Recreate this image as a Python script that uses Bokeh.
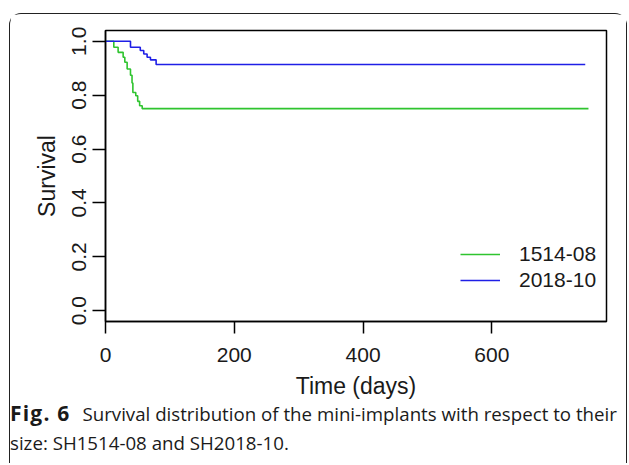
from bokeh.plotting import figure
from bokeh.layouts import column
from bokeh.models import Range1d, Legend, LegendItem, FixedTicker, PrintfTickFormatter, Div
from bokeh.embed import file_html
from bokeh.resources import INLINE

# ---- data ----
green_label = "1514-08"
green_time = [0, 12.9, 19.6, 27.4, 30.0, 33.6, 38.8, 41.2, 42.5, 47.0, 50.0, 53.0, 57.0, 750]
green_surv = [1.0, 0.978, 0.959, 0.941, 0.922, 0.897, 0.874, 0.845, 0.81, 0.798, 0.777, 0.761, 0.75, 0.75]

blue_label = "2018-10"
blue_time = [0, 38.8, 54.0, 59.4, 64.6, 69.8, 78.6, 745]
blue_surv = [1.0, 0.978, 0.966, 0.953, 0.941, 0.931, 0.914, 0.914]

x_ticks = [0, 200, 400, 600]
y_ticks = [0.0, 0.2, 0.4, 0.6, 0.8, 1.0]
x_title = "Time (days)"
y_title = "Survival"
cap_bold = "Fig. 6"
cap_line1 = "Survival distribution of the mini-implants with respect to their"
cap_line2 = "size: SH1514-08 and SH2018-10."

# outer box origin on the page
BX, BY, BW = 9, 13, 1.5
W = 616            # inner width
PH = 397           # plot figure height
CH = 52            # caption height
OX, OY = BX + BW, BY + BW          # inner origin on the page
FONT = "Liberation Sans"

p = figure(width=W, height=PH, output_backend="svg", toolbar_location=None,
           x_range=Range1d(0, 778), y_range=Range1d(-0.04, 1.04),
           min_border_left=95, min_border_right=20,
           min_border_top=16, min_border_bottom=90)
p.grid.visible = False
p.background_fill_color = "white"
p.border_fill_color = "white"
p.outline_line_color = "black"
p.outline_line_width = 1.5

for ax in (p.xaxis[0], p.yaxis[0]):
    ax.axis_line_color = "black"
    ax.axis_line_width = 1.5
    ax.major_tick_line_color = "black"
    ax.major_tick_line_width = 1.5
    ax.major_tick_in = 0
    ax.minor_tick_line_color = None
    ax.major_label_text_font = FONT
    ax.major_label_text_font_size = "21px"
    ax.major_label_text_color = "#1a1a1a"
    ax.axis_label_text_font = FONT
    ax.axis_label_text_font_size = "23px"
    ax.axis_label_text_font_style = "normal"
    ax.axis_label_text_color = "#1a1a1a"

p.xaxis.ticker = FixedTicker(ticks=x_ticks)
p.yaxis.ticker = FixedTicker(ticks=y_ticks)
p.yaxis.formatter = PrintfTickFormatter(format="%.1f")
p.xaxis.major_tick_out = 12
p.yaxis.major_tick_out = 13
p.xaxis.major_label_standoff = 14
p.yaxis.major_label_standoff = 6
p.yaxis.major_label_orientation = "vertical"
p.xaxis.axis_label = x_title
p.yaxis.axis_label = y_title
p.xaxis.axis_label_standoff = 8
p.yaxis.axis_label_standoff = 10

r_g = p.step(green_time, green_surv, mode="after", line_color="#2fc42f", line_width=1.6)
r_b = p.step(blue_time, blue_surv, mode="after", line_color="#1f1fe6", line_width=1.6)

legend = Legend(items=[LegendItem(label=green_label, renderers=[r_g]),
                       LegendItem(label=blue_label, renderers=[r_b])],
                location=(355, 28), padding=0, margin=0, spacing=0,
                glyph_width=40, glyph_height=26, label_height=26, label_standoff=19,
                border_line_color=None, background_fill_alpha=0,
                label_text_font=FONT, label_text_font_size="21px", label_text_color="#1a1a1a")
p.add_layout(legend, "center")

caption_html = (
    '<div style="position:relative;top:-12px;font-family:\'Open Sans\';font-size:18.7px;'
    'line-height:29px;color:#1a1a1a;white-space:nowrap;margin:0;padding:0">'
    f'<span style="font-weight:bold;font-size:21px;letter-spacing:1.2px">{cap_bold}</span>'
    f'<span style="margin-left:12px">{cap_line1}</span><br>{cap_line2}</div>'
)
cap = Div(text=caption_html, width=W, height=CH, margin=(0, 0, 0, 0))

root = column(p, cap, spacing=0, margin=(BY, 0, 0, BX),
              styles={"border-top": "1.5px solid #222", "border-left": "1.5px solid #222",
                      "border-right": "1.5px solid #222", "border-bottom": "none",
                      "border-radius": "12px 12px 0 0"})

open("out.html", "w").write(file_html(root, INLINE))
